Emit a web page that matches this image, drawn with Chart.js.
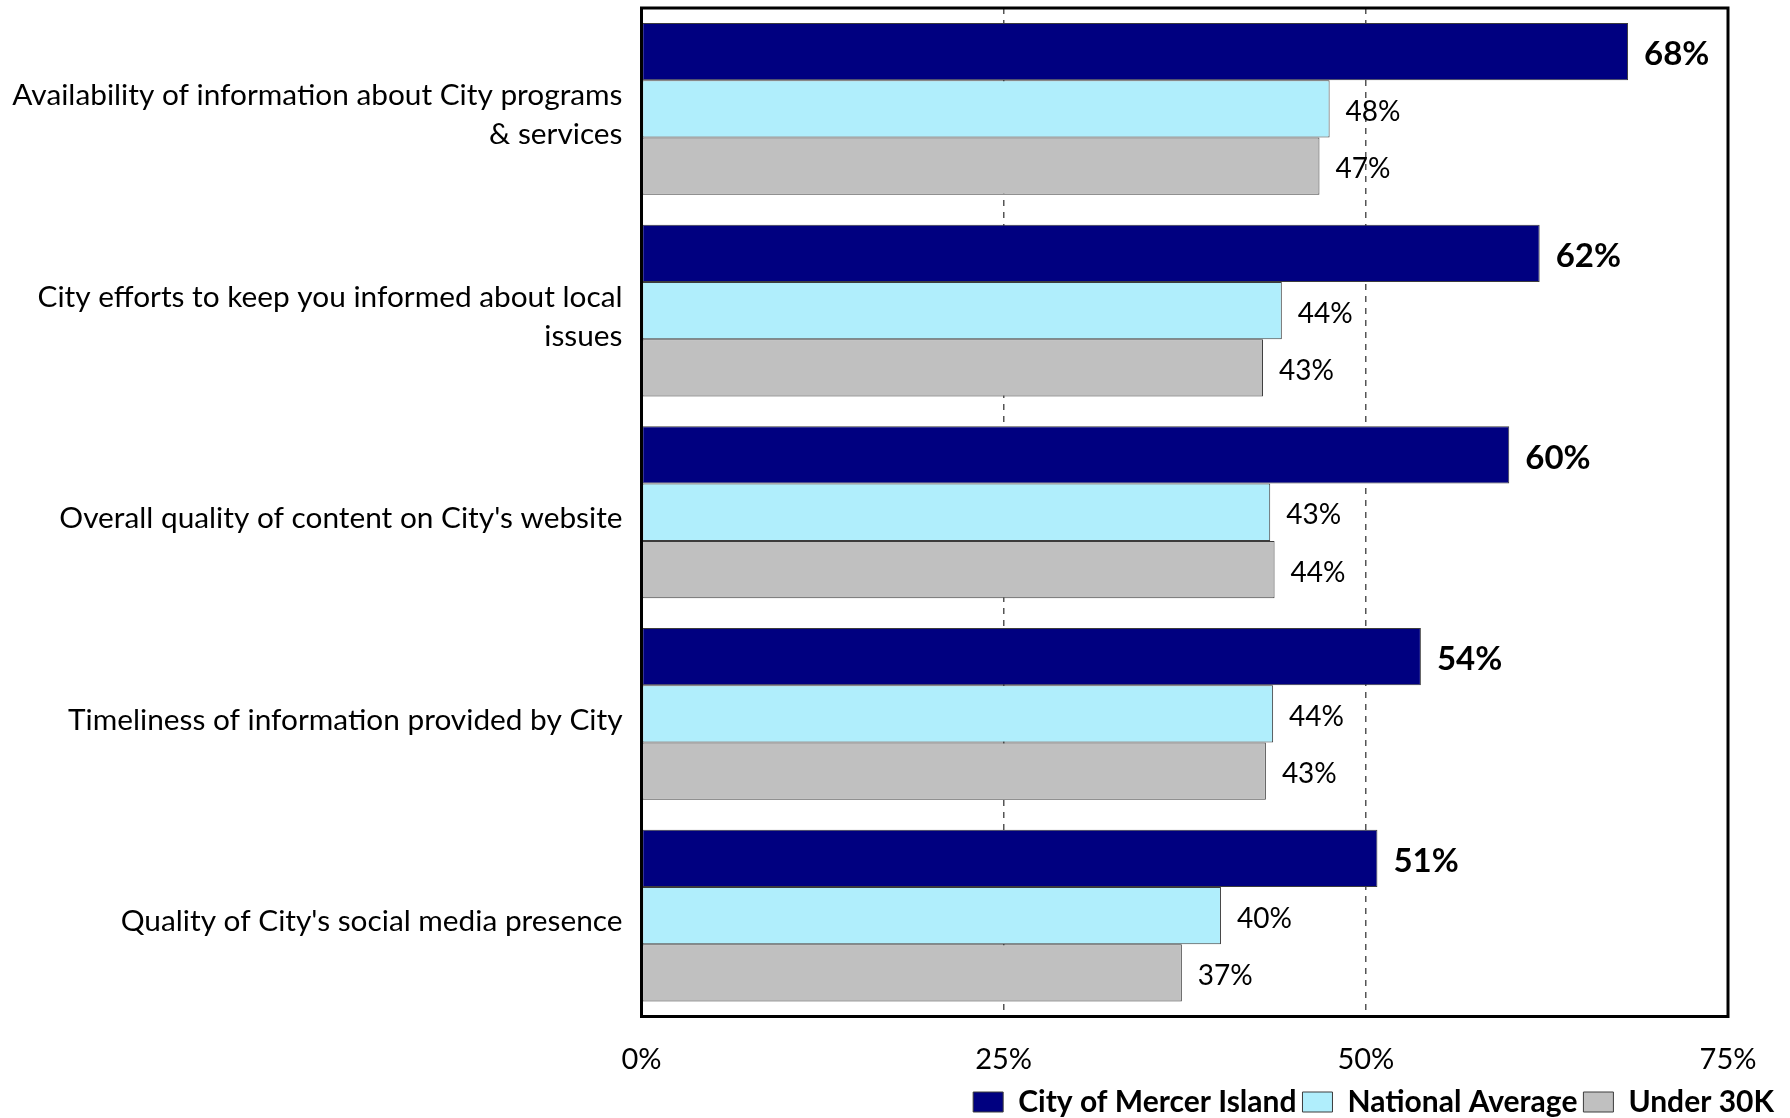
<!DOCTYPE html>
<html>
<head>
<meta charset="utf-8">
<script src="https://cdn.jsdelivr.net/npm/chart.js@4.4.0/dist/chart.umd.min.js"></script>
<style>
html,body{margin:0;padding:0;background:#fff;}
#wrap{width:1790px;height:1118px;}
</style>
</head>
<body>
<div id="wrap"><canvas id="c" width="1790" height="1118"></canvas></div>
<script>
// ---- data ----
const categories = [
  ["Availability of information about City programs", "& services"],
  ["City efforts to keep you informed about local", "issues"],
  "Overall quality of content on City's website",
  "Timeliness of information provided by City",
  "Quality of City's social media presence"
];
const seriesNames = ["City of Mercer Island", "National Average", "Under 30K"];
const mercerIsland    = [68.1, 62.0, 59.9, 53.8, 50.8];
const nationalAverage = [47.5, 44.2, 43.4, 43.6, 40.0];
const under30K        = [46.8, 42.9, 43.7, 43.1, 37.3];
const xTickValues = [0, 25, 50, 75];

// ---- styles ----
const FONT = "Lato, 'Open Sans', sans-serif";
const colors = ['#000080', '#B0EEFC', '#C0C0C0'];

Chart.defaults.font.family = FONT;
Chart.defaults.color = '#000';

const framePlugin = {
  id: 'frame',
  afterDatasetsDraw(chart) {
    const a = chart.chartArea, ctx = chart.ctx;
    ctx.save();
    ctx.strokeStyle = '#000';
    ctx.lineWidth = 3;
    ctx.strokeRect(a.left, a.top, a.right - a.left, a.bottom - a.top);
    ctx.restore();
  }
};

const valueLabelPlugin = {
  id: 'valueLabels',
  afterDatasetsDraw(chart) {
    const ctx = chart.ctx;
    chart.data.datasets.forEach((ds, di) => {
      const meta = chart.getDatasetMeta(di);
      meta.data.forEach((el, i) => {
        ctx.save();
        ctx.fillStyle = '#000';
        ctx.textAlign = 'left';
        ctx.textBaseline = 'middle';
        ctx.font = di === 0 ? "bold 33px " + FONT : "28px " + FONT;
        ctx.fillText(Math.round(ds.data[i]) + '%', el.x + 16, el.y + 3);
        ctx.restore();
      });
    });
  }
};

const seriesData = [mercerIsland, nationalAverage, under30K];

new Chart(document.getElementById('c'), {
  type: 'bar',
  data: {
    labels: categories,
    datasets: seriesNames.map((n, k) => ({
      label: n,
      data: seriesData[k],
      backgroundColor: colors[k],
      borderColor: '#3c3c3c',
      borderWidth: 1,
      borderSkipped: false,
      categoryPercentage: 0.852,
      barPercentage: 1.0
    }))
  },
  options: {
    indexAxis: 'y',
    responsive: false,
    animation: false,
    layout: { padding: { left: 0, right: 10, top: 8, bottom: -9 } },
    scales: {
      x: {
        min: 0, max: 75,
        afterBuildTicks: s => { s.ticks = xTickValues.map(v => ({ value: v })); },
        afterFit: s => { s.height = 64.5; s.paddingLeft = 0; s.paddingRight = 0; },
        grid: {
          drawTicks: false,
          color: c => (c.tick && (c.tick.value === 0 || c.tick.value === 75)) ? 'rgba(0,0,0,0)' : '#555',
          lineWidth: 1.5
        },
        border: { display: false, dash: [6, 6] },
        ticks: { padding: 26, font: { size: 29 }, color: '#000', callback: v => v + '%' }
      },
      y: {
        grid: { display: false },
        border: { display: false },
        ticks: { padding: 11, labelOffset: 6, font: { size: 29.8, lineHeight: 1.3 }, color: '#000' },
        afterFit: s => { s.width = 641.5; s.paddingTop = 0; s.paddingBottom = 0; }
      },
      yR: {
        type: 'category',
        position: 'right',
        display: true,
        grid: { display: false },
        border: { display: false },
        ticks: { display: false },
        afterFit: s => { s.width = 52; s.paddingTop = 0; s.paddingBottom = 0; }
      }
    },
    plugins: {
      legend: {
        position: 'bottom',
        align: 'end',
        labels: {
          boxWidth: 30, boxHeight: 20, padding: 6,
          font: { size: 30, weight: 'bold' }, color: '#000'
        }
      },
      tooltip: { enabled: false }
    }
  },
  plugins: [framePlugin, valueLabelPlugin]
});
</script>
</body>
</html>
